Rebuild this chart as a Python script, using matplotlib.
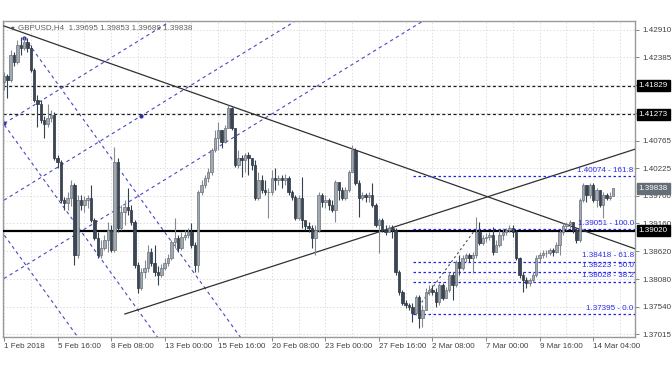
import matplotlib
matplotlib.use("Agg")
import matplotlib.pyplot as plt
import matplotlib.transforms as mtransforms
import numpy as np

plt.rcParams['font.family'] = ['Liberation Sans', 'DejaVu Sans']

# GBPUSD H4 candles, 1 Feb - 14 Mar 2018
first_open = 1.4190
closes = [
    1.4202, 1.4194, 1.4242, 1.4229, 1.4262, 1.4256, 1.4268, 1.4256, 1.4213, 1.4155,
    1.4147, 1.4116, 1.4108, 1.4120, 1.4126, 1.4042, 1.4035, 1.3961, 1.3955, 1.3965,
    1.3990, 1.3854, 1.3961, 1.3951, 1.3961, 1.3965, 1.3922, 1.3887, 1.3854, 1.3868,
    1.3883, 1.3903, 1.3864, 1.4035, 1.3907, 1.3938, 1.3947, 1.3942, 1.3918, 1.3835,
    1.3790, 1.3821, 1.3829, 1.3860, 1.3839, 1.3821, 1.3816, 1.3829, 1.3839, 1.3849,
    1.3880, 1.3887, 1.3868, 1.3889, 1.3893, 1.3899, 1.3874, 1.3835, 1.3977, 1.3990,
    1.4004, 1.4015, 1.4058, 1.4081, 1.4097, 1.4074, 1.4101, 1.4139, 1.4101, 1.4029,
    1.4042, 1.4039, 1.4048, 1.4042, 1.4029, 1.3965, 1.4000, 1.3980, 1.3977, 1.3977,
    1.4004, 1.4000, 1.4004, 1.4000, 1.4004, 1.3977, 1.3967, 1.3926, 1.3965, 1.3922,
    1.3911, 1.3907, 1.3887, 1.3903, 1.3971, 1.3957, 1.3961, 1.3951, 1.3942, 1.3996,
    1.3980, 1.3965, 1.3980, 1.4015, 1.4058, 1.3994, 1.3965, 1.3971, 1.3967, 1.3971,
    1.3951, 1.3913, 1.3922, 1.3903, 1.3899, 1.3907, 1.3903, 1.3821, 1.3783, 1.3761,
    1.3757, 1.3753, 1.3742, 1.3773, 1.3732, 1.3748, 1.3783, 1.3787, 1.3783, 1.3763,
    1.3796, 1.3771, 1.3787, 1.3816, 1.3796, 1.3841, 1.3829, 1.3849, 1.3854, 1.3849,
    1.3854, 1.3899, 1.3878, 1.3887, 1.3889, 1.3893, 1.3860, 1.3874, 1.3893, 1.3899,
    1.3903, 1.3907, 1.3899, 1.3849, 1.3816, 1.3806, 1.3800, 1.3806, 1.3816, 1.3849,
    1.3854, 1.3858, 1.3858, 1.3864, 1.3860, 1.3874, 1.3899, 1.3911, 1.3914, 1.3918,
    1.3903, 1.3883, 1.3961, 1.3990, 1.3971, 1.3990, 1.3961, 1.3980, 1.3951, 1.3971,
    1.3965, 1.3970, 1.3984,
]
highs = [
    1.4209, 1.4205, 1.4252, 1.4248, 1.4271, 1.4277, 1.4277, 1.4275, 1.4262, 1.4217,
    1.4165, 1.4155, 1.4124, 1.4147, 1.4136, 1.4132, 1.4048, 1.4039, 1.3967, 1.3977,
    1.4000, 1.3994, 1.3971, 1.3971, 1.3969, 1.3971, 1.3990, 1.3926, 1.3899, 1.3883,
    1.3893, 1.3918, 1.3913, 1.4064, 1.4042, 1.3951, 1.3961, 1.3984, 1.3951, 1.3922,
    1.3841, 1.3829, 1.3845, 1.3874, 1.3868, 1.3874, 1.3833, 1.3837, 1.3849, 1.3856,
    1.3883, 1.3926, 1.3893, 1.3899, 1.3903, 1.3907, 1.3916, 1.3880, 1.3980, 1.4000,
    1.4010, 1.4023, 1.4062, 1.4097, 1.4112, 1.4097, 1.4107, 1.4145, 1.4141, 1.4101,
    1.4058, 1.4048, 1.4052, 1.4054, 1.4042, 1.4039, 1.4015, 1.4010, 1.4000, 1.3984,
    1.4019, 1.4023, 1.4010, 1.4010, 1.4011, 1.4008, 1.3980, 1.3971, 1.3971, 1.4006,
    1.3922, 1.3918, 1.3913, 1.3913, 1.3977, 1.3975, 1.3971, 1.3965, 1.3961, 1.4000,
    1.3990, 1.3986, 1.3986, 1.4019, 1.4068, 1.4062, 1.4000, 1.3977, 1.3975, 1.3977,
    1.3994, 1.3955, 1.3926, 1.3926, 1.3913, 1.3913, 1.3913, 1.3907, 1.3825, 1.3787,
    1.3767, 1.3761, 1.3761, 1.3777, 1.3777, 1.3757, 1.3790, 1.3796, 1.3796, 1.3790,
    1.3800, 1.3800, 1.3792, 1.3821, 1.3821, 1.3845, 1.3854, 1.3854, 1.3858, 1.3858,
    1.3860, 1.3928, 1.3918, 1.3893, 1.3897, 1.3899, 1.3909, 1.3883, 1.3903, 1.3907,
    1.3907, 1.3913, 1.3913, 1.3903, 1.3850, 1.3821, 1.3812, 1.3810, 1.3821, 1.3854,
    1.3860, 1.3864, 1.3864, 1.3868, 1.3868, 1.3880, 1.3903, 1.3916, 1.3918, 1.3922,
    1.3918, 1.3907, 1.3965, 1.3994, 1.3980, 1.3994, 1.3994, 1.3984, 1.3977, 1.3977,
    1.3975, 1.3977, 1.3985,
]
lows = [
    1.4174, 1.4159, 1.4190, 1.4221, 1.4225, 1.4242, 1.4252, 1.4248, 1.4209, 1.4151,
    1.4103, 1.4110, 1.4081, 1.4103, 1.4112, 1.4039, 1.4023, 1.3955, 1.3942, 1.3942,
    1.3949, 1.3835, 1.3849, 1.3942, 1.3938, 1.3945, 1.3918, 1.3883, 1.3849, 1.3849,
    1.3864, 1.3860, 1.3860, 1.3860, 1.3899, 1.3903, 1.3913, 1.3932, 1.3913, 1.3829,
    1.3781, 1.3787, 1.3810, 1.3821, 1.3833, 1.3814, 1.3796, 1.3812, 1.3825, 1.3833,
    1.3845, 1.3868, 1.3860, 1.3864, 1.3883, 1.3887, 1.3868, 1.3821, 1.3821, 1.3971,
    1.3984, 1.3996, 1.4010, 1.4054, 1.4058, 1.4062, 1.4072, 1.4101, 1.4097, 1.4025,
    1.4023, 1.4006, 1.4015, 1.4010, 1.4019, 1.3961, 1.3961, 1.3975, 1.3971, 1.3926,
    1.3971, 1.3980, 1.3990, 1.3984, 1.3990, 1.3971, 1.3961, 1.3922, 1.3922, 1.3907,
    1.3903, 1.3899, 1.3868, 1.3854, 1.3899, 1.3947, 1.3945, 1.3942, 1.3938, 1.3918,
    1.3961, 1.3961, 1.3961, 1.3977, 1.4015, 1.3990, 1.3928, 1.3961, 1.3957, 1.3957,
    1.3947, 1.3909, 1.3858, 1.3899, 1.3893, 1.3899, 1.3887, 1.3816, 1.3777, 1.3757,
    1.3751, 1.3748, 1.3724, 1.3738, 1.3713, 1.3715, 1.3748, 1.3777, 1.3777, 1.3753,
    1.3757, 1.3767, 1.3771, 1.3783, 1.3767, 1.3792, 1.3816, 1.3825, 1.3841, 1.3841,
    1.3819, 1.3849, 1.3874, 1.3874, 1.3880, 1.3883, 1.3854, 1.3860, 1.3870, 1.3883,
    1.3893, 1.3899, 1.3889, 1.3845, 1.3810, 1.3783, 1.3790, 1.3794, 1.3802, 1.3812,
    1.3841, 1.3849, 1.3850, 1.3854, 1.3852, 1.3858, 1.3854, 1.3893, 1.3903, 1.3907,
    1.3897, 1.3878, 1.3880, 1.3957, 1.3957, 1.3965, 1.3957, 1.3947, 1.3947, 1.3926,
    1.3961, 1.3961, 1.3969,
]

date_labels = ["1 Feb 2018", "5 Feb 16:00", "8 Feb 08:00", "13 Feb 00:00", "15 Feb 16:00",
               "20 Feb 08:00", "23 Feb 00:00", "27 Feb 16:00", "2 Mar 08:00", "7 Mar 00:00",
               "9 Mar 16:00", "14 Mar 04:00"]
label_bars = [0, 16, 32, 48, 64, 80, 96, 112, 128, 144, 160, 176]

price_ticks = [1.42910, 1.42385, 1.41850, 1.41310, 1.40765, 1.40225, 1.39700,
               1.39160, 1.38620, 1.38080, 1.37540, 1.37015]
hidden_ticks = [1.41850, 1.41310]

level_lines = [1.41829, 1.41273]
support = 1.39020
last_price = 1.39838
header = "GBPUSD,H4  1.39695 1.39853 1.39689 1.39838"

fib_levels = [1.40074, 1.39051, 1.38418, 1.38223, 1.38028, 1.37395]
fib_names = ["161.8", "100.0", "61.8", "50.0", "38.2", "0.0"]
fib_anchor_bars = [122.1, 140.9]
fib_anchor_prices = [1.37395, 1.39051]

trend_down_bars = [0, 188.7]
trend_down_prices = [1.42988, 1.38663]
trend_up_bars = [36.1, 188.7]
trend_up_prices = [1.37403, 1.40603]

# blue channel lines: start bar, start price, slope per bar
chan_up_start = [(0.1, 1.4110), (0.0, 1.3961), (0.0, 1.3809)]
chan_up_slope = 0.000399
chan_dn_start = [(6.1, 1.4276), (0.1, 1.4107), (0.1, 1.3893)]
chan_dn_slope = -0.000900
chan_dots = [(0.1, 1.4110), (6.1, 1.4276), (40.9, 1.4124)]

fig = plt.figure(figsize=(6.72, 3.72), dpi=100)
ax = fig.add_axes([3 / 672, 35 / 372, 632 / 672, 316.5 / 372])
xmax = 188.5
ax.set_xlim(-0.3, xmax)
ax.set_ylim(1.36957, 1.43094)

# grid
for b in range(0, 190, 8):
    ax.axvline(b, color='#d4d4d4', lw=0.6, ls=(0, (1.5, 2.5)), zorder=0)
for p in price_ticks:
    ax.axhline(p, color='#d4d4d4', lw=0.6, ls=(0, (1.5, 2.5)), zorder=0)

# channel lines
for b0, p0 in chan_up_start:
    ax.plot([b0, xmax + 5], [p0, p0 + chan_up_slope * (xmax + 5 - b0)],
            color='#4848c0', lw=0.8, ls=(0, (3, 3)), zorder=1)
for b0, p0 in chan_dn_start:
    ax.plot([b0, xmax + 5], [p0, p0 + chan_dn_slope * (xmax + 5 - b0)],
            color='#4848c0', lw=0.8, ls=(0, (3, 3)), zorder=1)
ax.scatter([d[0] for d in chan_dots], [d[1] for d in chan_dots], s=4, color='#3030b0', zorder=2)

# horizontal levels
for p in level_lines:
    ax.axhline(p, color='#202020', lw=0.9, ls=(0, (2.5, 2)), zorder=2)
ax.axhline(support, color='black', lw=1.6, zorder=3)

# trend lines
ax.plot(trend_down_bars, trend_down_prices, color='#303030', lw=0.9, zorder=3)
ax.plot(trend_up_bars, trend_up_prices, color='#303030', lw=0.9, zorder=3)

# fibonacci
ax.plot(fib_anchor_bars, fib_anchor_prices, color='#505050', lw=0.8, ls=(0, (2, 2.5)), zorder=3)
for p, n in zip(fib_levels, fib_names):
    ax.plot([fib_anchor_bars[0], xmax], [p, p], color='#2020f0', lw=0.9, ls=(0, (2, 2)), zorder=3)
    ax.text(xmax - 0.4, p + 0.00045, f"{p:.5f} - {n}", color='#2a2af0', fontsize=5.8,
            ha='right', va='bottom', zorder=6)

# candles
opens = [first_open] + closes[:-1]
idx = np.arange(len(closes))
o = np.array(opens)
c = np.array(closes)
h = np.maximum(np.array(highs), np.maximum(o, c))
l = np.minimum(np.array(lows), np.minimum(o, c))
up = c >= o
ax.vlines(idx[up], l[up], h[up], color='#838a93', lw=0.8, zorder=4)
ax.vlines(idx[~up], l[~up], h[~up], color='#36414e', lw=0.8, zorder=4)
body_lo = np.minimum(o, c)
body_h = np.maximum(np.abs(c - o), 0.00008)
ax.bar(idx[up], body_h[up], bottom=body_lo[up], width=0.72, color='#a2a9b0',
       edgecolor='#687079', lw=0.5, zorder=5)
ax.bar(idx[~up], body_h[~up], bottom=body_lo[~up], width=0.72, color='#3a4655',
       edgecolor='#2c3540', lw=0.5, zorder=5)

# axes styling
for s in ax.spines.values():
    s.set_color('#9a9a9a')
    s.set_linewidth(1.0)
ax.yaxis.tick_right()
ax.set_yticks(price_ticks)
ax.set_yticklabels(['' if p in hidden_ticks else f"{p:.5f}" for p in price_ticks])
ax.set_xticks(label_bars)
ax.set_xticklabels(date_labels, ha='left')
ax.tick_params(axis='y', length=3, width=0.6, color='#707070', labelsize=5.8,
               labelcolor='#404040', pad=2)
ax.tick_params(axis='x', length=3, width=0.6, color='#707070', labelsize=5.8,
               labelcolor='#404040', pad=1.5)

# price boxes on the right
trans = mtransforms.blended_transform_factory(ax.transAxes, ax.transData)
for p in level_lines + [support]:
    ax.text(1.006, p, f"{p:.5f}", transform=trans, fontsize=5.8, color='white',
            ha='left', va='center', zorder=10, clip_on=False,
            bbox=dict(boxstyle='square,pad=0.25', fc='black', ec='black'))
ax.text(1.006, last_price, f"{last_price:.5f}", transform=trans, fontsize=5.8, color='white',
        ha='left', va='center', zorder=10, clip_on=False,
        bbox=dict(boxstyle='square,pad=0.25', fc='#656d76', ec='#656d76'))

# header
ax.text(0.012, 0.978, "\u25BC", transform=ax.transAxes, fontsize=3.5, color='#555555',
        ha='left', va='center', family=['DejaVu Sans'])
ax.text(0.023, 0.978, header, transform=ax.transAxes, fontsize=5.8, color='#606060',
        ha='left', va='center', zorder=10)

fig.savefig("out.png", dpi=100, facecolor='white')
